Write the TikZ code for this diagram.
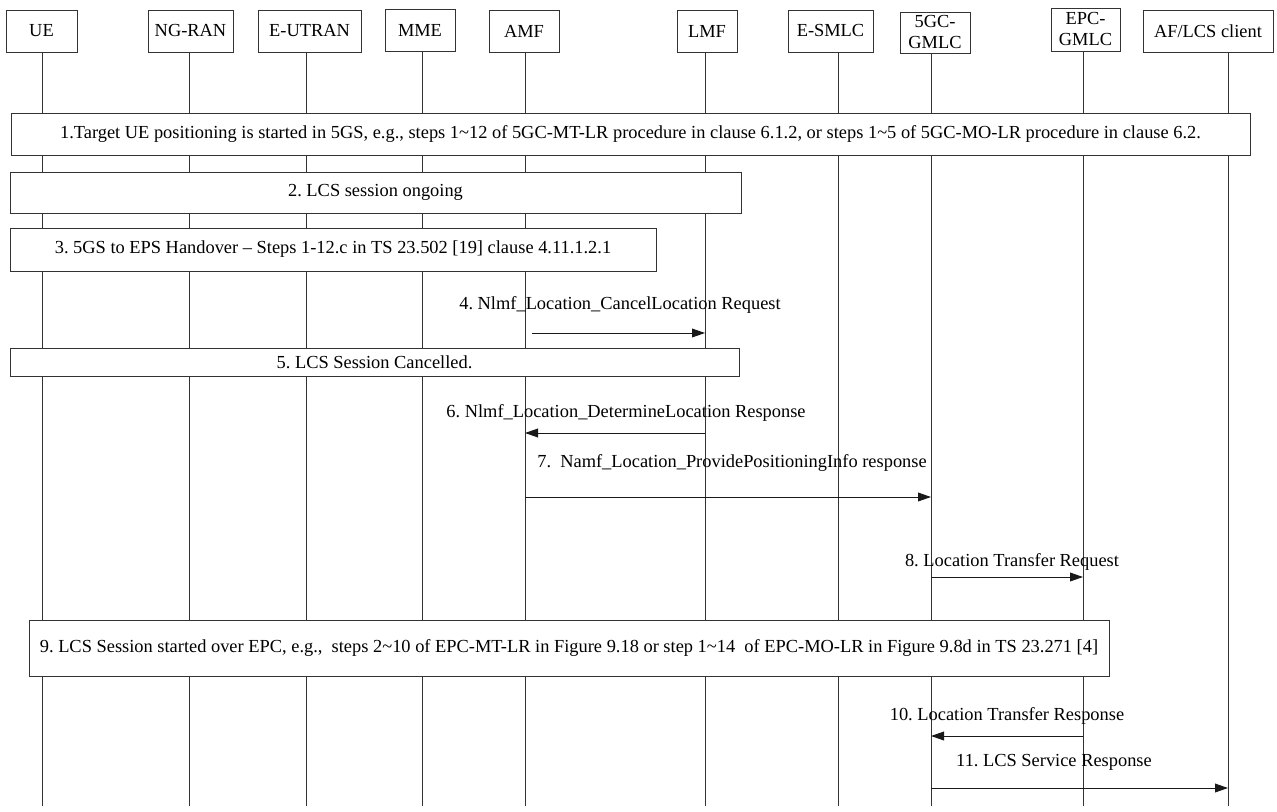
\documentclass[tikz,border=0pt]{standalone}
\usepackage{fontspec}
\setmainfont{Liberation Serif}
\usepackage{tikz}
\usetikzlibrary{arrows.meta}
\tikzset{
  basebox/.style={rectangle,draw=black!80,line width=0.45pt,fill=white,
                  align=center,inner sep=1pt,
                  font=\fontsize{9.2}{10.5}\selectfont\frenchspacing},
  partnode/.style={basebox,minimum height=21pt},
  stepnode/.style={basebox,minimum height=21pt},
  msglabel/.style={inner sep=0pt,font=\fontsize{9.2}{10.5}\selectfont\frenchspacing},
  lifeline/.style={draw=black!80,line width=0.45pt},
  msgarr/.style={-{Triangle[length=6.5pt,width=4.4pt]},line width=0.5pt,color=black!90}
}

\begin{document}
\begin{tikzpicture}[x=0.5pt,y=-0.5pt]

  \useasboundingbox (0,0) rectangle (1277,812);

  \node[partnode,minimum width=35.5pt] (ue) at (41.5,31) {UE};
  \node[partnode,minimum width=42.5pt] (ngran) at (190.5,31) {NG-RAN};
  \node[partnode,minimum width=51.5pt] (eutran) at (309.5,31) {E-UTRAN};
  \node[partnode,minimum width=35pt] (mme) at (420,30) {MME};
  \node[partnode,minimum width=35pt] (amf) at (524,31) {AMF};
  \node[partnode,minimum width=30pt] (lmf) at (707,31) {LMF};
  \node[partnode,minimum width=42.5pt] (esmlc) at (830.5,31) {E-SMLC};
  \node[partnode,minimum width=35pt,minimum height=20.5pt] (gmlcfive) at (935,32.5)
      {5GC-\\GMLC};
  \node[partnode,minimum width=34.5pt,minimum height=21.5pt] (gmlcepc) at (1085.5,29.5)
      {EPC-\\GMLC};
  \node[partnode,minimum width=65pt] (af) at (1208,31) {AF/LCS client};

  \coordinate (bot) at (0,806);
  \coordinate (ue-ll) at (42,0);
  \coordinate (ngran-ll) at (189,0);
  \coordinate (eutran-ll) at (306,0);
  \coordinate (mme-ll) at (422,0);
  \coordinate (amf-ll) at (525,0);
  \coordinate (lmf-ll) at (705,0);
  \coordinate (esmlc-ll) at (838,0);
  \coordinate (gmlcfive-ll) at (931,0);
  \coordinate (gmlcepc-ll) at (1083,0);
  \coordinate (af-ll) at (1228,0);

  \draw[lifeline] (ue.south -| ue-ll) -- (ue-ll |- bot);
  \draw[lifeline] (ngran.south -| ngran-ll) -- (ngran-ll |- bot);
  \draw[lifeline] (eutran.south -| eutran-ll) -- (eutran-ll |- bot);
  \draw[lifeline] (mme.south -| mme-ll) -- (mme-ll |- bot);
  \draw[lifeline] (amf.south -| amf-ll) -- (amf-ll |- bot);
  \draw[lifeline] (lmf.south -| lmf-ll) -- (lmf-ll |- bot);
  \draw[lifeline] (esmlc.south -| esmlc-ll) -- (esmlc-ll |- bot);
  \draw[lifeline] (gmlcfive.south -| gmlcfive-ll) -- (gmlcfive-ll |- bot);
  \draw[lifeline] (gmlcepc.south -| gmlcepc-ll) -- (gmlcepc-ll |- bot);
  \draw[lifeline] (af.south -| af-ll) -- (af-ll |- bot);

  \node[stepnode,minimum width=619.5pt] (s1) at (630.5,134)
      {1.Target UE positioning is started in 5GS, e.g., steps 1\textasciitilde12 of 5GC-MT-LR procedure in clause 6.1.2, or steps 1\textasciitilde5 of 5GC-MO-LR procedure in clause 6.2.};
  \node[stepnode,minimum width=365.5pt,minimum height=20.5pt] (s2) at (375.5,192.5)
      {2. LCS session ongoing};
  \node[stepnode,minimum width=323pt,minimum height=21.5pt] (s3) at (333,249.5)
      {3. 5GS to EPS Handover \textendash{} Steps 1-12.c in TS 23.502 [19] clause 4.11.1.2.1};

  \coordinate (m4) at (0,333);
  \node[msglabel] (l4) at (620,305) {4. Nlmf\_Location\_CancelLocation Request};
  \draw[msgarr] ([xshift=3.5pt]amf-ll |- m4) -- (lmf-ll |- m4);

  \node[stepnode,minimum width=364.5pt,minimum height=14pt] (s5) at (374.5,362)
      {5. LCS Session Cancelled.};

  \coordinate (m6) at (0,433);
  \node[msglabel] (l6) at (626,413) {6. Nlmf\_Location\_DetermineLocation Response};
  \draw[msgarr] (lmf-ll |- m6) -- (amf-ll |- m6);

  \coordinate (m7) at (0,497);
  \node[msglabel] (l7) at (732,463) {7.\ \ Namf\_Location\_ProvidePositioningInfo response};
  \draw[msgarr] (amf-ll |- m7) -- (gmlcfive-ll |- m7);

  \coordinate (m8) at (0,577);
  \node[msglabel] (l8) at (1012,562) {8. Location Transfer Request};
  \draw[msgarr] (gmlcfive-ll |- m8) -- (gmlcepc-ll |- m8);

  \node[stepnode,minimum width=540pt,minimum height=28pt] (s9) at (569,648)
      {9. LCS Session started over EPC, e.g.,\ \ steps 2\textasciitilde10 of EPC-MT-LR in Figure 9.18 or step 1\textasciitilde14\ \ of EPC-MO-LR in Figure 9.8d in TS 23.271 [4]};

  \coordinate (m10) at (0,736);
  \node[msglabel] (l10) at (1007,716) {10. Location Transfer Response};
  \draw[msgarr] (gmlcepc-ll |- m10) -- (gmlcfive-ll |- m10);

  \coordinate (m11) at (0,788);
  \node[msglabel] (l11) at (1054,762) {11. LCS Service Response};
  \draw[msgarr] (gmlcfive-ll |- m11) -- (af-ll |- m11);

\end{tikzpicture}
\end{document}
